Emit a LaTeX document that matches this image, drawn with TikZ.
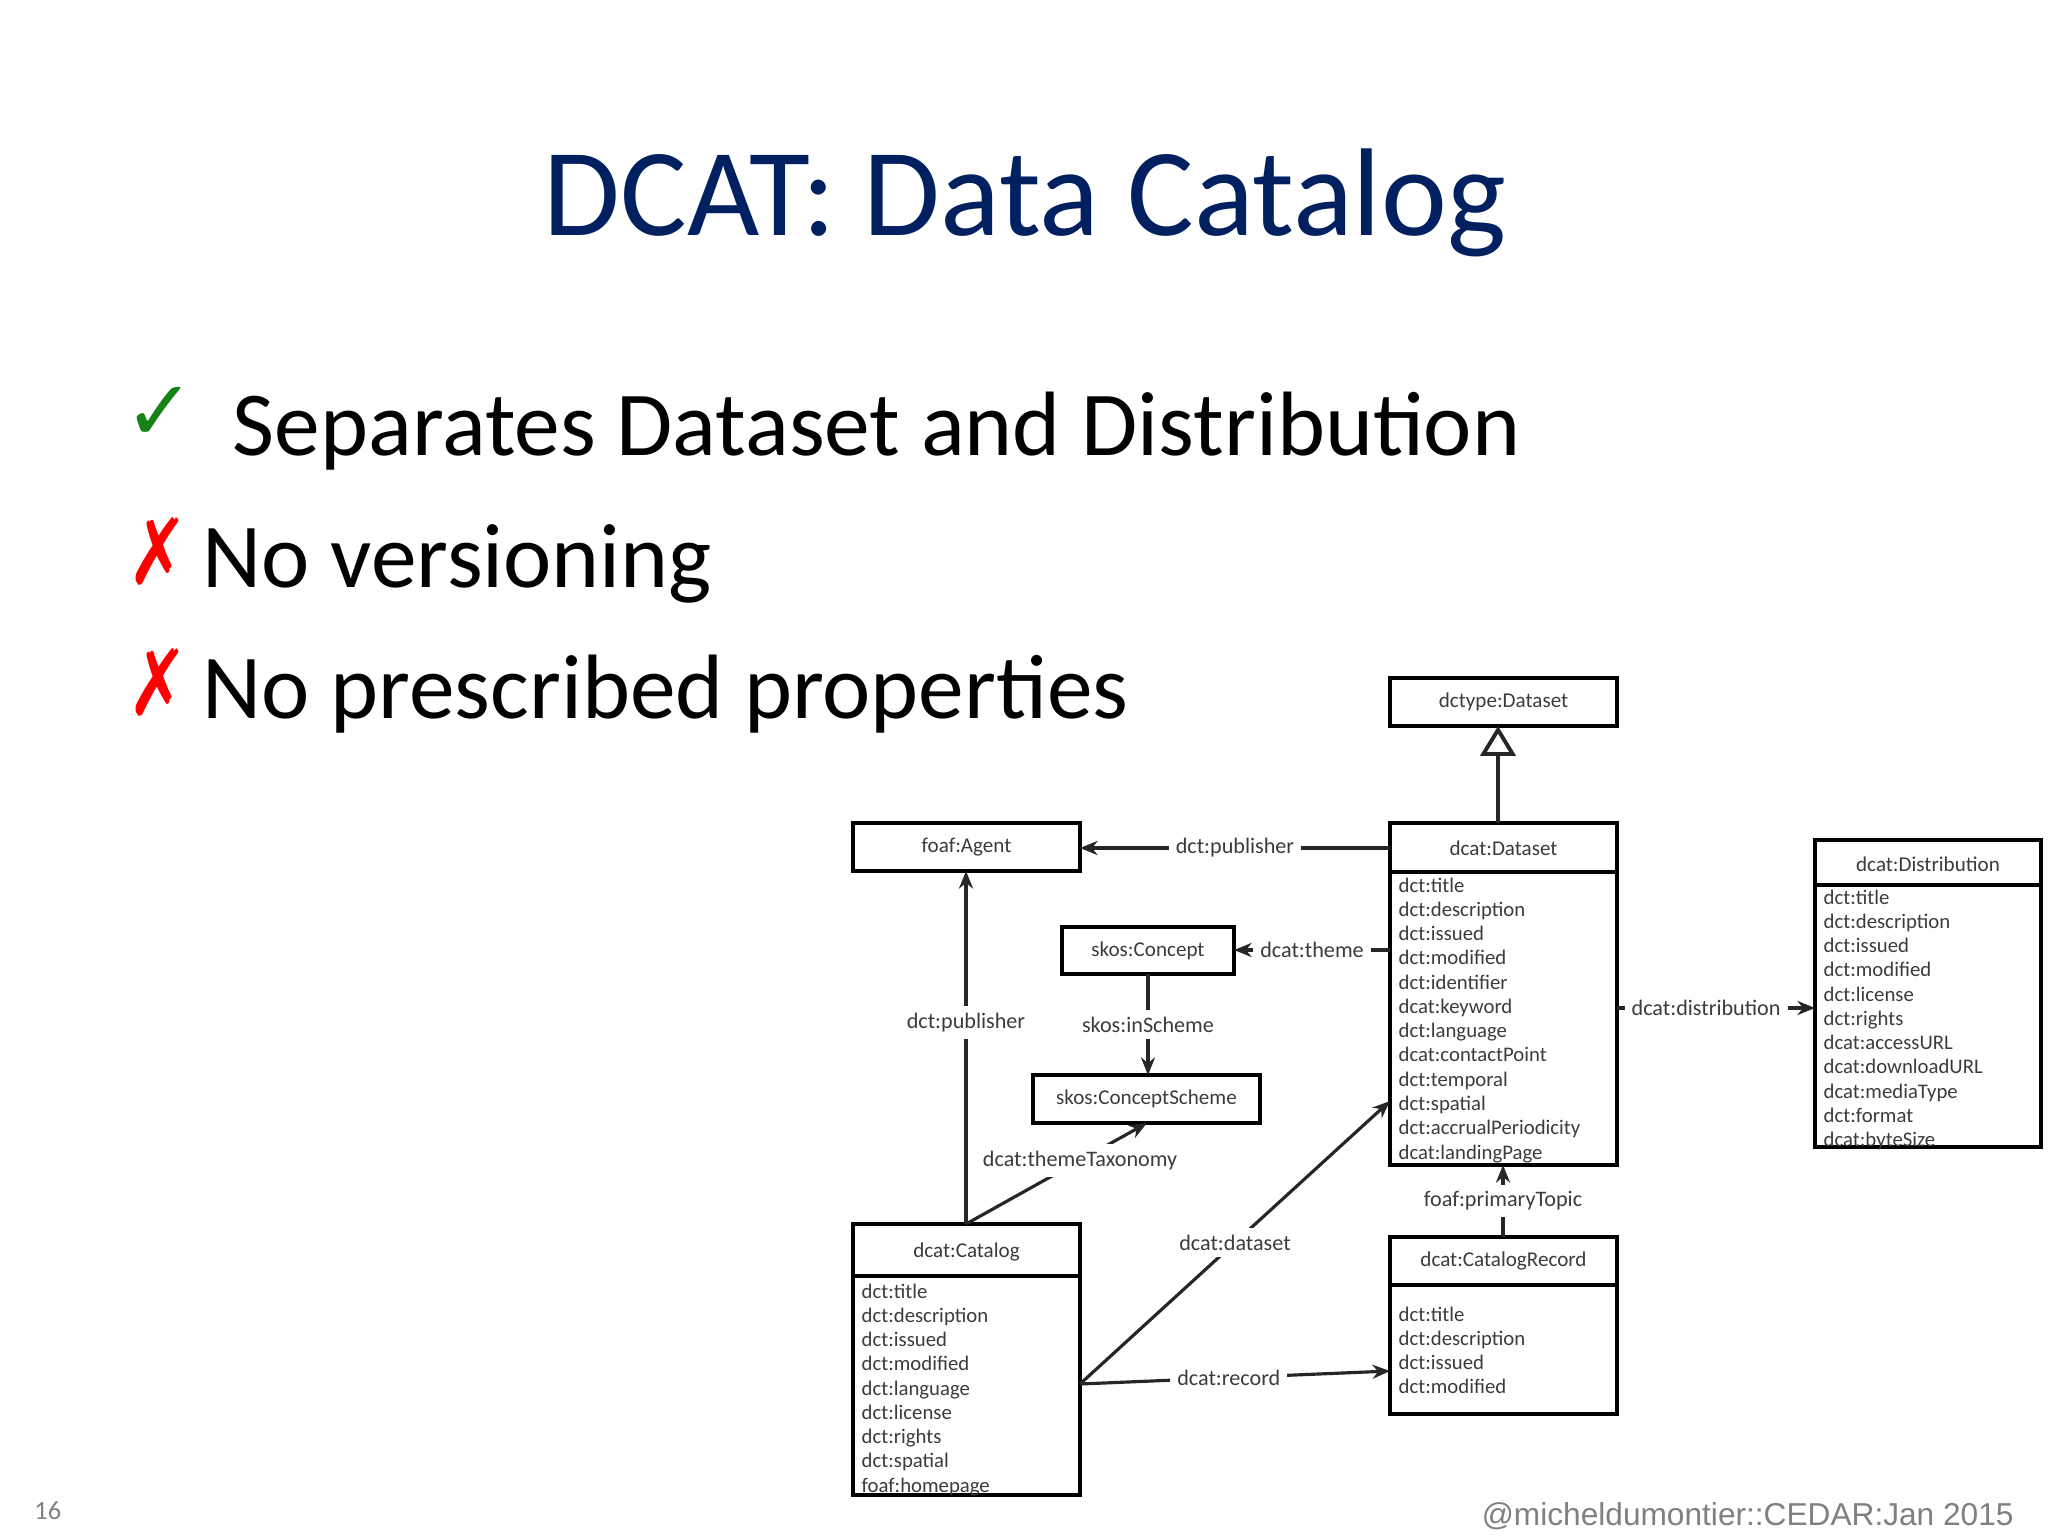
\documentclass[tikz,border=0pt]{standalone}
\usepackage{fontspec}
\setmainfont{Carlito}
\newfontfamily\footfont{Liberation Sans}
\newfontfamily\symfont{DejaVu Sans}
\usetikzlibrary{arrows.meta}
\definecolor{titleblue}{RGB}{0,32,96}
\definecolor{okgreen}{RGB}{20,130,20}
\definecolor{diag}{RGB}{60,60,60}
\tikzset{
 box/.style={draw=black,line width=1.1pt},
 hdr/.style={font=\fontsize{6}{7}\selectfont,text=diag},
 attr/.style={font=\fontsize{5.9}{6.9}\selectfont,text=diag,align=left,anchor=north west,inner sep=0pt},
 lbl/.style={font=\fontsize{6.3}{7}\selectfont,text=diag,fill=white,inner sep=2pt},
 conn/.style={line width=0.9pt,draw=black!85},
 arr/.style={conn,-{Stealth[length=5pt,width=4pt]}},
}
\begin{document}
\begin{tikzpicture}[x=0.01cm,y=-0.01cm]
\useasboundingbox (0,0) rectangle (2048,1536);
\fill[white] (0,0) rectangle (2048,1536);
% title and bullets
\node[font=\fontsize{35.5}{38}\selectfont,text=titleblue,anchor=base] (title) at (1025,235) {DCAT: Data Catalog};
\node[font=\symfont\fontsize{24}{26}\selectfont,text=okgreen,anchor=base] (chk) at (160,440) {✓};
\node[font=\fontsize{26}{28}\selectfont,anchor=base west,inner sep=0pt] (b1) at (232,455) {Separates Dataset and Distribution};
\node[font=\symfont\fontsize{26}{28}\selectfont,text=red,anchor=base,xscale=0.8] (x1) at (158,584) {✗};
\node[font=\fontsize{26}{28}\selectfont,anchor=base west,inner sep=0pt] (b2) at (202,587) {No versioning};
\node[font=\symfont\fontsize{26}{28}\selectfont,text=red,anchor=base,xscale=0.8] (x2) at (158,715) {✗};
\node[font=\fontsize{26}{28}\selectfont,anchor=base west,inner sep=0pt] (b3) at (202,718) {No prescribed properties};
% simple boxes
\draw[box] (1390,678) rectangle (1617,726); \node[hdr] (dctype) at (1503.5,702) {dctype:Dataset};
\coordinate (dctypeB) at (1498,726);
\draw[box] (853,823) rectangle (1080,871); \node[hdr] (agent) at (966.5,847) {foaf:Agent};
\draw[box] (1062,927) rectangle (1234,974); \node[hdr] (concept) at (1148,951) {skos:Concept};
\draw[box] (1033,1075) rectangle (1260,1123); \node[hdr] (scheme) at (1146.5,1099) {skos:ConceptScheme};
% dcat:Dataset
\draw[box] (1390,823) rectangle (1617,1165); \draw[box] (1390,872)--(1617,872);
\node[hdr] (dataset) at (1503.5,848) {dcat:Dataset};
\node[attr] (dsattr) at (1398,877) {dct:title\\dct:description\\dct:issued\\dct:modified\\dct:identifier\\dcat:keyword\\dct:language\\dcat:contactPoint\\dct:temporal\\dct:spatial\\dct:accrualPeriodicity\\dcat:landingPage};
% dcat:Distribution
\draw[box] (1815,840) rectangle (2041,1147); \draw[box] (1815,885)--(2041,885);
\node[hdr] (dist) at (1928,864) {dcat:Distribution};
\node[attr] (diattr) at (1823,889) {dct:title\\dct:description\\dct:issued\\dct:modified\\dct:license\\dct:rights\\dcat:accessURL\\dcat:downloadURL\\dcat:mediaType\\dct:format\\dcat:byteSize};
% dcat:Catalog
\draw[box] (853,1224) rectangle (1080,1495); \draw[box] (853,1276)--(1080,1276);
\node[hdr] (catalog) at (966.5,1252) {dcat:Catalog};
\node[attr] (caattr) at (861,1283) {dct:title\\dct:description\\dct:issued\\dct:modified\\dct:language\\dct:license\\dct:rights\\dct:spatial\\foaf:homepage};
% dcat:CatalogRecord
\draw[box] (1390,1237) rectangle (1617,1414); \draw[box] (1390,1285)--(1617,1285);
\node[hdr] (record) at (1503.5,1261) {dcat:CatalogRecord};
\node[attr] (rcattr) at (1398,1306) {dct:title\\dct:description\\dct:issued\\dct:modified};
% anchor coordinates
\coordinate (dsL1) at (1390,848); \coordinate (agR) at (1080,848);
\coordinate (dsL2) at (1390,950); \coordinate (coR) at (1234,950);
\coordinate (coB) at (1148,974); \coordinate (scT) at (1148,1075);
\coordinate (caT) at (966,1224); \coordinate (agB) at (966,871);
\coordinate (scB) at (1147,1123);
\coordinate (caR) at (1080,1384); \coordinate (dsL3) at (1390,1101);
\coordinate (rcL) at (1390,1371);
\coordinate (rcT) at (1503,1237); \coordinate (dsB) at (1503,1165);
\coordinate (dsR) at (1617,1008); \coordinate (diL) at (1815,1008);
\coordinate (dsT) at (1498,823);
% connectors
\draw[arr] (dsL1) -- node[lbl] (l1) {dct:publisher} (agR);
\draw[arr] (dsL2) -- node[lbl] (l2) {dcat:theme} (coR);
\draw[arr] (coB) -- node[lbl] (l3) {skos:inScheme} (scT);
\draw[arr] (caT) -- node[lbl,pos=0.57] (l4) {dct:publisher} (agB);
\draw[arr] (caT) -- node[lbl,pos=0.63] (l5) {dcat:themeTaxonomy} (scB);
\draw[arr] (caR) -- node[lbl,pos=0.5] (l6) {dcat:dataset} (dsL3);
\draw[arr] (caR) -- node[lbl,pos=0.48] (l7) {dcat:record} (rcL);
\draw[arr] (rcT) -- node[lbl] (l8) {foaf:primaryTopic} (dsB);
\draw[arr] (dsR) -- node[lbl,pos=0.45] (l9) {dcat:distribution} (diL);
\draw[conn,-{Triangle[open,length=8.5pt,width=10pt]},line width=1.1pt] (dsT) -- (dctypeB);
% footer
\node[font=\fontsize{7.5}{8}\selectfont,text=gray,anchor=base west] (num) at (22,1519) {16};
\node[font=\footfont\fontsize{9}{10}\selectfont,text=gray,anchor=base east] (foot) at (2026,1525) {@micheldumontier::CEDAR:Jan 2015};
\end{tikzpicture}
\end{document}
